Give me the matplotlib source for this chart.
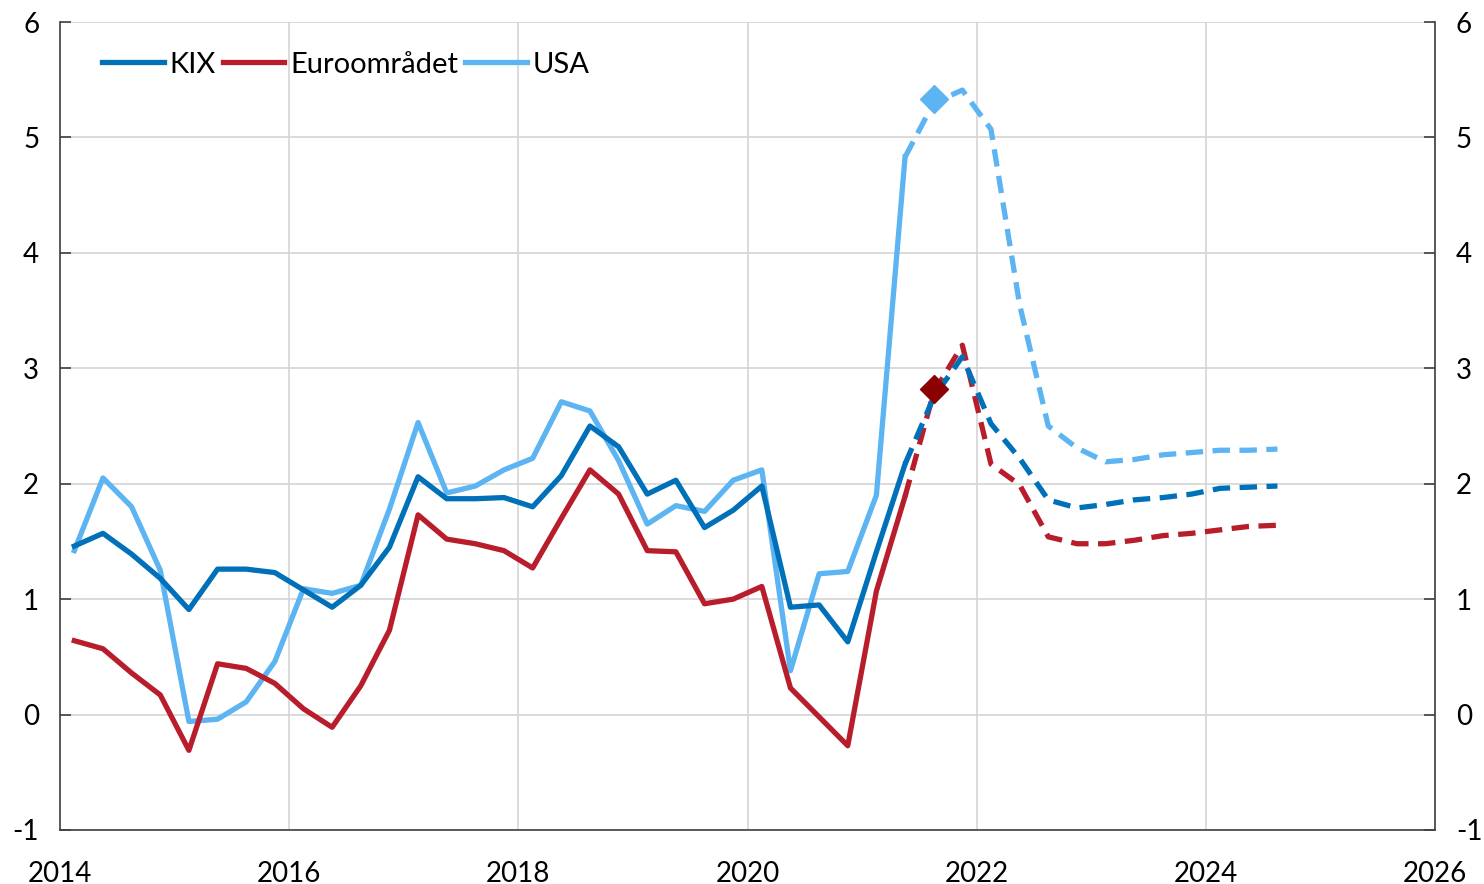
import numpy as np
import matplotlib
matplotlib.use("Agg")
import matplotlib.pyplot as plt

# Quarterly data, 2014 Q1 - 2024 Q3 (outcome up to 2021 Q2, forecast after)
start_year = 2014
n_quarters = 43
n_outcome = 30  # first 30 quarters are outcome, rest forecast

kix = [1.46, 1.57, 1.39, 1.18, 0.91, 1.26, 1.26, 1.23, 1.08, 0.93,
       1.12, 1.45, 2.06, 1.87, 1.87, 1.88, 1.80, 2.07, 2.50, 2.32,
       1.91, 2.03, 1.62, 1.77, 1.98, 0.93, 0.95, 0.63, 1.41, 2.17,
       2.75, 3.10, 2.52, 2.22, 1.86, 1.79, 1.82, 1.86, 1.88, 1.91,
       1.96, 1.97, 1.98]
euro = [0.64, 0.57, 0.36, 0.17, -0.31, 0.44, 0.40, 0.27, 0.05, -0.11,
        0.25, 0.73, 1.73, 1.52, 1.48, 1.42, 1.27, 1.70, 2.12, 1.91,
        1.42, 1.41, 0.96, 1.00, 1.11, 0.23, -0.02, -0.27, 1.07, 1.89,
        2.79, 3.20, 2.17, 1.99, 1.54, 1.48, 1.48, 1.51, 1.55, 1.57,
        1.60, 1.63, 1.64]
usa = [1.42, 2.05, 1.80, 1.25, -0.06, -0.04, 0.11, 0.46, 1.09, 1.05,
       1.12, 1.78, 2.53, 1.92, 1.98, 2.12, 2.22, 2.71, 2.63, 2.20,
       1.65, 1.81, 1.76, 2.03, 2.12, 0.38, 1.22, 1.24, 1.90, 4.83,
       5.30, 5.41, 5.07, 3.55, 2.50, 2.31, 2.19, 2.21, 2.25, 2.27,
       2.29, 2.29, 2.30]

# Single-point markers (previous forecast) at 2021 Q3
marker_quarter = 30
euro_marker = 2.82
usa_marker = 5.33

x = start_year + 0.125 + 0.25 * np.arange(n_quarters)

col_kix = "#0071b9"
col_euro = "#b81d2c"
col_usa = "#5cb4f2"
col_euro_mk = "#8b0000"

plt.rcParams["font.family"] = ["Lato", "DejaVu Sans"]
plt.rcParams["axes.unicode_minus"] = False

fig = plt.figure(figsize=(14.84, 8.84), dpi=100)
ax = fig.add_axes([60 / 1484, 54 / 884, 1375 / 1484, 808 / 884])

lw = 3.8
dash = (0, (3.3, 1.8))
o = n_outcome
# draw USA first so KIX and Euro sit on top
for vals, col, label in [(usa, col_usa, "USA"), (euro, col_euro, "Euroområdet"), (kix, col_kix, "KIX")]:
    ax.plot(x[:o], vals[:o], color=col, lw=lw, label=label)
    ax.plot(x[o - 1:], vals[o - 1:], color=col, lw=lw, linestyle=dash)

ax.plot(x[marker_quarter], usa_marker, marker="D", ms=14, color=col_usa, zorder=5)
ax.plot(x[marker_quarter], euro_marker, marker="D", ms=14, color=col_euro_mk, zorder=5)

ax.set_xlim(2014, 2026)
ax.set_ylim(-1, 6)
ax.set_xticks(range(2014, 2027, 2))
ax.set_yticks(range(-1, 7))
ax.grid(True, color="#d4d4d4", lw=1.2)
ax.set_axisbelow(True)

for s in ["left", "right", "bottom"]:
    ax.spines[s].set_color("#404040")
    ax.spines[s].set_linewidth(1.2)
ax.spines["top"].set_visible(False)

ax.yaxis.set_ticks_position("both")
ax.tick_params(axis="y", direction="in", length=8, width=1.2, color="#404040",
               labelsize=20, labelleft=True, labelright=True, pad=15)
ax.tick_params(axis="x", direction="in", length=0, labelsize=20, pad=22)

handles, labels = ax.get_legend_handles_labels()
order = [2, 1, 0]
ax.legend([handles[i] for i in order], [labels[i] for i in order],
          loc="upper left", bbox_to_anchor=(0.018, 0.985), ncol=3, frameon=False,
          fontsize=21, handlelength=2.1, handletextpad=0.2, columnspacing=0.25,
          borderaxespad=0.2)

fig.savefig("out.png", dpi=100)
